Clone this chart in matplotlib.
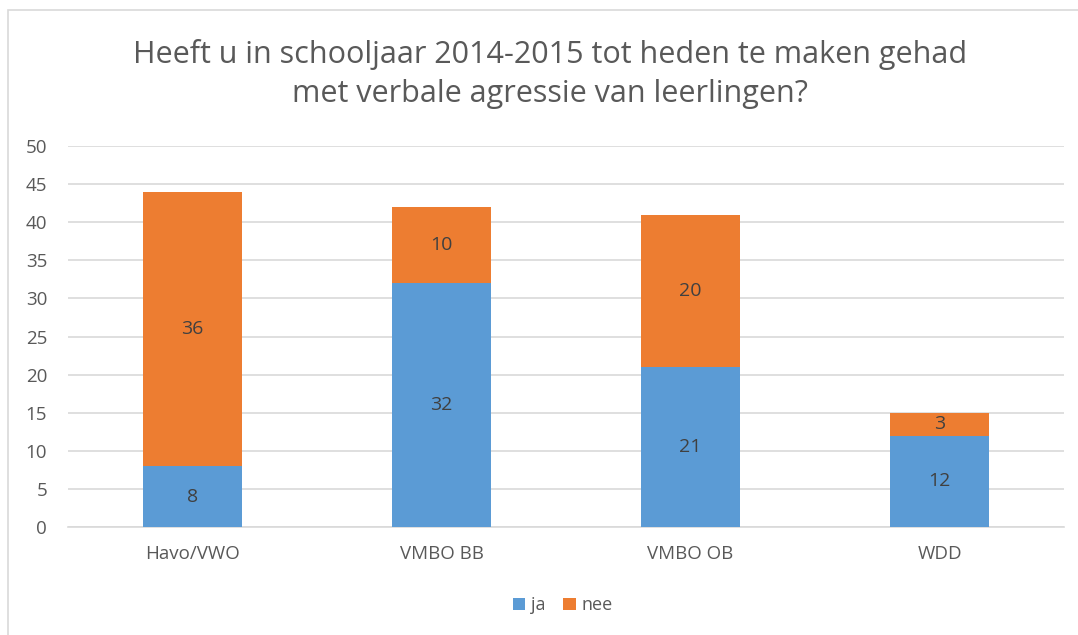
import matplotlib.pyplot as plt
import numpy as np
from matplotlib.patches import Rectangle

categories = ["Havo/VWO", "VMBO BB", "VMBO OB", "WDD"]
ja = [8, 32, 21, 12]
nee = [36, 10, 20, 3]

plt.rcParams["font.family"] = ["Open Sans", "DejaVu Sans"]

fig = plt.figure(figsize=(10.78, 6.35), dpi=100)
ax = fig.add_axes([0.0631, 0.170, 0.924, 0.600])

x = np.arange(len(categories))
blue, orange = "#5B9BD5", "#ED7D31"
b1 = ax.bar(x, ja, width=0.4, color=blue, label="ja", zorder=3)
b2 = ax.bar(x, nee, width=0.4, bottom=ja, color=orange, label="nee", zorder=3)

for bars, vals, bottoms in ((b1, ja, [0] * 4), (b2, nee, ja)):
    for rect, v, b in zip(bars, vals, bottoms):
        ax.text(rect.get_x() + rect.get_width() / 2, b + v / 2, str(v),
                ha="center", va="center", fontsize=14, color="#404040", zorder=4)

ax.set_xlim(-0.5, len(categories) - 0.5)
ax.set_ylim(0, 50)
ax.set_yticks(range(0, 51, 5))
ax.set_xticks(x)
ax.set_xticklabels(categories)
ax.tick_params(axis="both", length=0, labelsize=13.5, colors="#595959")
ax.tick_params(axis="y", pad=15)
ax.tick_params(axis="x", pad=13)
ax.grid(axis="y", color="#D9D9D9", linewidth=1.2, zorder=0)
for s in ("top", "right", "left"):
    ax.spines[s].set_visible(False)
ax.spines["bottom"].set_color("#D9D9D9")
ax.spines["bottom"].set_linewidth(1.2)

fig.text(0.510, 0.883, "Heeft u in schooljaar 2014-2015 tot heden te maken gehad\n"
         "met verbale agressie van leerlingen?", ha="center", va="center",
         fontsize=22, color="#595959", linespacing=1.4)

fig.legend(handles=[b1, b2], labels=["ja", "nee"], loc="center",
           bbox_to_anchor=(0.522, 0.047), ncol=2, frameon=False, fontsize=13,
           handlelength=0.7, handleheight=0.7, handletextpad=0.3, columnspacing=1.0,
           labelcolor="#595959")

fig.patches.append(Rectangle((8 / 1078, -0.01), 1.1, (625 + 6.35) / 635,
                             transform=fig.transFigure, fill=False,
                             edgecolor="#D9D9D9", linewidth=1.2))

fig.savefig("out.png", dpi=100)
